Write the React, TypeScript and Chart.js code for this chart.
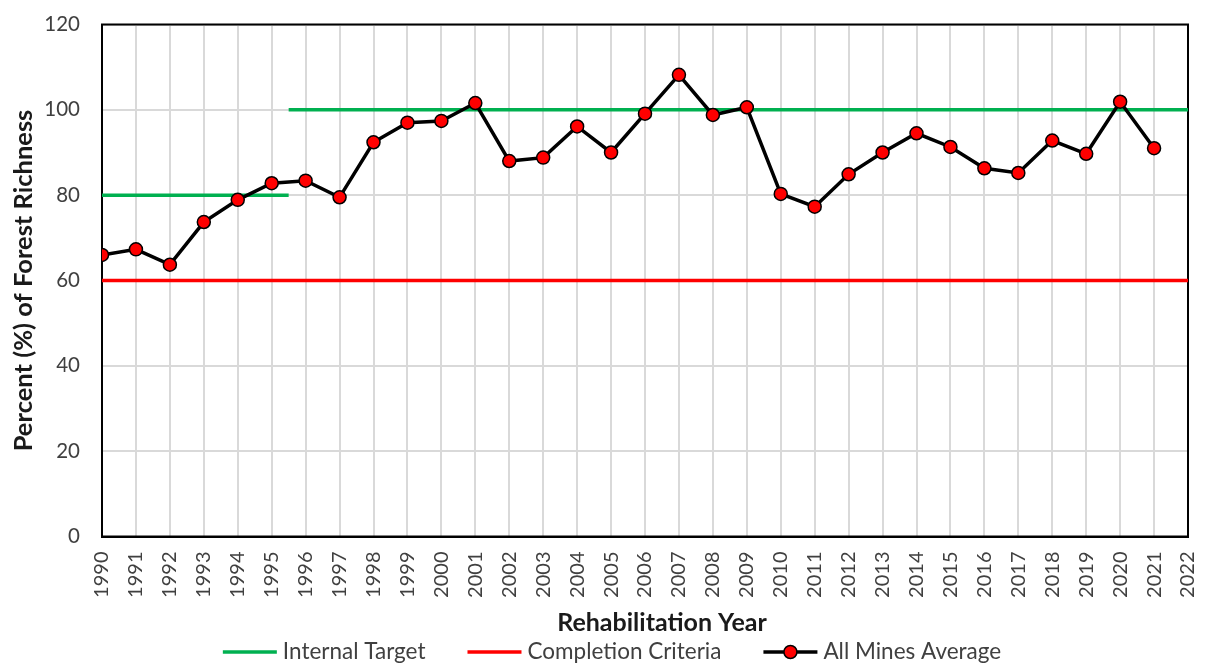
import React, { useEffect, useRef } from "react";
import { Chart, registerables } from "chart.js";

Chart.register(...registerables);

// ---- data ----
const years = [
  1990, 1991, 1992, 1993, 1994, 1995, 1996, 1997, 1998, 1999, 2000, 2001,
  2002, 2003, 2004, 2005, 2006, 2007, 2008, 2009, 2010, 2011, 2012, 2013,
  2014, 2015, 2016, 2017, 2018, 2019, 2020, 2021,
];
const allMinesAverage = [
  66.0, 67.3, 63.7, 73.7, 78.9, 82.8, 83.4, 79.5, 92.4, 97.0, 97.4, 101.6,
  88.0, 88.8, 96.1, 90.0, 99.1, 108.2, 98.8, 100.6, 80.3, 77.3, 84.9, 90.0,
  94.5, 91.3, 86.3, 85.2, 92.8, 89.7, 101.9, 91.0,
];
const internalTargetX = [1990, 1995.5, 1995.5, 1995.5, 2022];
const internalTargetY: (number | null)[] = [80, 80, null, 100, 100];
const completionX = [1990, 2022];
const completionY = [60, 60];

const xMin = 1990;
const xMax = 2022;
const yMin = 0;
const yMax = 120;
const yStep = 20;

const labelInternal = "Internal Target";
const labelCompletion = "Completion Criteria";
const labelAverage = "All Mines Average";
const xTitle = "Rehabilitation Year";
const yTitle = "Percent (%) of Forest Richness";

const FONT = "Lato, 'Open Sans', sans-serif";
const GREEN = "#00b050";
const RED = "#ff0000";
const TEXT = "#404040";

export default function App() {
  const ref = useRef<HTMLCanvasElement | null>(null);

  useEffect(() => {
    if (!ref.current) return;

    const overlay = {
      id: "overlay",
      beforeDatasetsDraw(chart: any) {
        const { ctx, chartArea } = chart;
        ctx.save();
        ctx.strokeStyle = "#000";
        ctx.lineWidth = 2;
        ctx.strokeRect(
          chartArea.left,
          chartArea.top,
          chartArea.right - chartArea.left,
          chartArea.bottom - chartArea.top
        );
        ctx.restore();
      },
      afterDraw(chart: any) {
        const { ctx } = chart;
        ctx.save();
        // x-axis title
        ctx.font = `bold 25px ${FONT}`;
        ctx.fillStyle = "#1a1a1a";
        ctx.textAlign = "center";
        ctx.textBaseline = "middle";
        ctx.fillText(xTitle, 662, 623);

        // legend
        const ds = chart.data.datasets;
        ctx.font = `22.5px ${FONT}`;
        const sample = 54;
        const gap = 6;
        const spacing = 42;
        const widths = ds.map((d: any) => ctx.measureText(d.label).width);
        const total =
          widths.reduce((a: number, b: number) => a + b + sample + gap, 0) +
          spacing * (ds.length - 1);
        let x = 612 - total / 2;
        const y = 652;
        ds.forEach((d: any, i: number) => {
          ctx.strokeStyle = d.borderColor;
          ctx.lineWidth = 3.5;
          ctx.beginPath();
          ctx.moveTo(x, y);
          ctx.lineTo(x + sample, y);
          ctx.stroke();
          if (d.pointRadius > 0) {
            ctx.beginPath();
            ctx.arc(x + sample / 2, y, d.pointRadius, 0, Math.PI * 2);
            ctx.fillStyle = d.pointBackgroundColor;
            ctx.fill();
            ctx.lineWidth = d.pointBorderWidth;
            ctx.strokeStyle = d.pointBorderColor;
            ctx.stroke();
          }
          ctx.fillStyle = TEXT;
          ctx.textAlign = "left";
          ctx.textBaseline = "middle";
          ctx.fillText(d.label, x + sample + gap, y);
          x += sample + gap + widths[i] + spacing;
        });
        ctx.restore();
      },
    };

    const chart = new Chart(ref.current, {
      type: "line",
      data: {
        datasets: [
          {
            label: labelInternal,
            data: internalTargetX.map((x, i) => ({ x, y: internalTargetY[i] })),
            borderColor: GREEN,
            backgroundColor: GREEN,
            borderWidth: 3.5,
            pointRadius: 0,
            spanGaps: false,
            order: 2,
          },
          {
            label: labelCompletion,
            data: completionX.map((x, i) => ({ x, y: completionY[i] })),
            borderColor: RED,
            backgroundColor: RED,
            borderWidth: 3.5,
            pointRadius: 0,
            order: 1,
          },
          {
            label: labelAverage,
            data: years.map((x, i) => ({ x, y: allMinesAverage[i] })),
            borderColor: "#000",
            backgroundColor: RED,
            borderWidth: 3.5,
            pointRadius: 6.5,
            pointBackgroundColor: RED,
            pointBorderColor: "#000",
            pointBorderWidth: 1.5,
            tension: 0,
            order: 0,
          },
        ] as any,
      },
      options: {
        animation: false,
        responsive: false,
        maintainAspectRatio: false,
        layout: { padding: { top: 24.5, right: 17, bottom: 30, left: 0 } },
        plugins: {
          legend: { display: false },
          tooltip: { enabled: false },
        },
        scales: {
          x: {
            type: "linear",
            min: xMin,
            max: xMax,
            afterFit: (s: any) => {
              s.height = 97.5;
              s.paddingLeft = 0;
              s.paddingRight = 0;
              s.paddingTop = 0;
              s.paddingBottom = 0;
            },
            grid: { color: "#d9d9d9", lineWidth: 2, drawTicks: false },
            border: { display: true, color: "#000", width: 2 },
            ticks: {
              stepSize: 1,
              maxTicksLimit: 100,
              autoSkip: false,
              minRotation: 90,
              maxRotation: 90,
              padding: 15,
              color: TEXT,
              font: { family: FONT, size: 20 },
              callback: (v: any) => String(v),
            },
          },
          y: {
            min: yMin,
            max: yMax,
            afterFit: (s: any) => {
              s.width = 102;
              s.paddingLeft = 0;
              s.paddingRight = 0;
              s.paddingTop = 0;
              s.paddingBottom = 0;
            },
            grid: { color: "#d9d9d9", lineWidth: 2, drawTicks: false },
            border: { display: true, color: "#000", width: 2 },
            ticks: {
              stepSize: yStep,
              padding: 22,
              color: TEXT,
              font: { family: FONT, size: 20.5 },
            },
            title: {
              display: true,
              text: yTitle,
              color: "#1a1a1a",
              font: { family: FONT, size: 25.5, weight: "bold" },
              padding: { top: 8, bottom: 0 },
            },
          },
        },
      },
      plugins: [overlay],
    });

    return () => chart.destroy();
  }, []);

  return (
    <div
      style={{
        position: "fixed",
        left: 0,
        top: 0,
        width: 1205,
        height: 664,
        background: "#fff",
      }}
    >
      <canvas ref={ref} width={1205} height={664} style={{ width: 1205, height: 664 }} />
    </div>
  );
}
